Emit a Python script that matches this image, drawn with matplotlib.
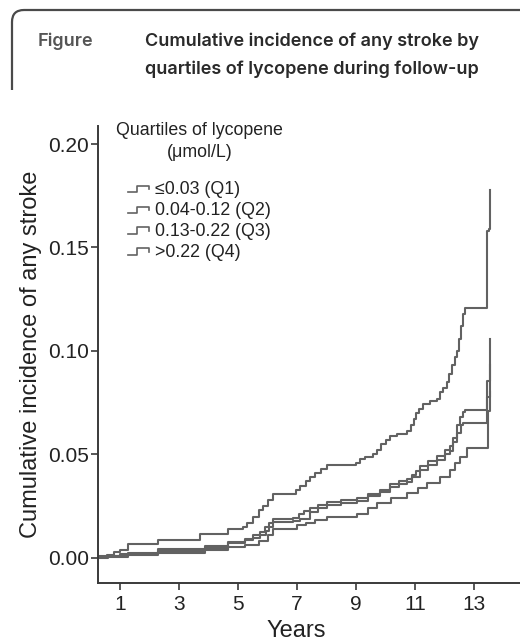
import matplotlib
matplotlib.use("Agg")
import matplotlib.pyplot as plt
from matplotlib.lines import Line2D
from matplotlib.legend_handler import HandlerBase
from matplotlib.path import Path
from matplotlib.patches import PathPatch

# step data (years, cumulative incidence)
q1_t = [0.25, 0.55, 0.8, 1.0, 1.27, 2.29, 3.71, 4.66, 5.17, 5.3, 5.5, 5.7, 5.85, 6.0, 6.19,
        6.95, 7.1, 7.3, 7.45, 7.6, 7.8, 8.02, 9.0, 9.14, 9.3, 9.58, 9.7, 9.85, 10.0, 10.15,
        10.4, 10.73, 10.85, 10.95, 11.05, 11.15, 11.27, 11.5, 11.75, 11.85, 11.95, 12.08,
        12.15, 12.25, 12.35, 12.42, 12.48, 12.55, 12.63, 12.69, 13.44, 13.5, 13.54]
q1_v = [0.0008, 0.0015, 0.003, 0.004, 0.0068, 0.0087, 0.0115, 0.0140, 0.0150, 0.017, 0.020,
        0.023, 0.025, 0.028, 0.031, 0.033, 0.035, 0.037, 0.039, 0.041, 0.043, 0.0447, 0.046,
        0.048, 0.049, 0.050, 0.052, 0.055, 0.057, 0.059, 0.060, 0.0615, 0.064, 0.067, 0.070,
        0.072, 0.0745, 0.076, 0.077, 0.080, 0.082, 0.085, 0.089, 0.093, 0.097, 0.100, 0.106,
        0.112, 0.118, 0.121, 0.158, 0.159, 0.178]

q2_t = [0.25, 0.6, 1.0, 1.27, 2.29, 3.88, 4.66, 5.24, 5.5, 5.75, 5.9, 6.05, 6.19, 6.86, 7.05,
        7.25, 7.44, 7.7, 8.02, 8.5, 9.03, 9.4, 9.8, 10.15, 10.45, 10.73, 10.9, 11.05, 11.17,
        11.45, 11.75, 12.0, 12.19, 12.3, 12.42, 12.52, 12.63, 12.69, 13.44, 13.54]
q2_v = [0.0005, 0.001, 0.0018, 0.0024, 0.0043, 0.0058, 0.0078, 0.0091, 0.011, 0.0125, 0.015,
        0.017, 0.0188, 0.0192, 0.021, 0.0225, 0.024, 0.0255, 0.0269, 0.028, 0.0288, 0.031,
        0.033, 0.0356, 0.037, 0.038, 0.040, 0.042, 0.0442, 0.047, 0.0495, 0.052, 0.0543,
        0.058, 0.064, 0.068, 0.0707, 0.0716, 0.0856, 0.106]

q3_t = [0.25, 0.6, 1.27, 2.29, 3.88, 4.66, 5.24, 5.5, 5.75, 5.95, 6.05, 6.19, 6.86, 7.1, 7.44,
        7.7, 8.02, 8.5, 9.03, 9.4, 9.8, 10.15, 10.45, 10.73, 10.9, 11.17, 11.45, 11.75, 12.0,
        12.19, 12.3, 12.42, 12.55, 12.63, 13.44, 13.54]
q3_v = [0.0003, 0.0008, 0.0019, 0.0034, 0.0048, 0.0070, 0.0085, 0.0098, 0.011, 0.013, 0.015,
        0.0173, 0.0178, 0.019, 0.0221, 0.024, 0.0255, 0.0265, 0.0274, 0.030, 0.032, 0.0341,
        0.0355, 0.0365, 0.039, 0.0423, 0.045, 0.0471, 0.050, 0.0519, 0.056, 0.0606, 0.064,
        0.0654, 0.078, 0.093]

q4_t = [0.25, 0.6, 1.27, 2.29, 3.88, 4.66, 5.24, 5.7, 6.0, 6.19, 7.0, 7.3, 7.6, 8.02, 9.03,
        9.4, 9.71, 10.2, 10.73, 11.1, 11.41, 11.85, 12.19, 12.35, 12.53, 12.76, 13.47, 13.54]
q4_v = [0.0002, 0.0006, 0.0014, 0.0024, 0.0038, 0.0053, 0.0063, 0.008, 0.011, 0.0139, 0.0159,
        0.017, 0.0185, 0.0197, 0.0212, 0.024, 0.0264, 0.029, 0.0313, 0.034, 0.036, 0.039,
        0.0423, 0.046, 0.0486, 0.0529, 0.071, 0.080]

labels = ['\u22640.03 (Q1)', '0.04-0.12 (Q2)', '0.13-0.22 (Q3)', '>0.22 (Q4)']
series = [(q1_t, q1_v), (q2_t, q2_v), (q3_t, q3_v), (q4_t, q4_v)]
x_ticks = [1, 3, 5, 7, 9, 11, 13]
y_ticks = [0.00, 0.05, 0.10, 0.15, 0.20]

W, H = 520, 641
fig = plt.figure(figsize=(W / 100, H / 100), dpi=100)
plt.rcParams['font.family'] = ['Liberation Sans', 'DejaVu Sans']

# header box with rounded top-left corner
fx = lambda px: px / W
fy = lambda py: 1 - py / H
verts = [(fx(12), fy(90)), (fx(12), fy(22)), (fx(12), fy(10)), (fx(24), fy(10)), (fx(520), fy(10))]
codes = [Path.MOVETO, Path.LINETO, Path.CURVE3, Path.CURVE3, Path.LINETO]
fig.add_artist(PathPatch(Path(verts, codes), transform=fig.transFigure, fill=False,
                         edgecolor='#4a4a4a', lw=1.6))
hdr = dict(family=['Inter', 'DejaVu Sans'], fontweight='semibold', fontsize=13, va='center')
fig.text(fx(38), fy(41), 'Figure', color='#555555', **hdr)
fig.text(fx(145), fy(41), 'Cumulative incidence of any stroke by', color='#2a2a2a', **hdr)
fig.text(fx(145), fy(69), 'quartiles of lycopene during follow-up', color='#2a2a2a', **hdr)

ax = fig.add_axes([fx(98), 1 - 583 / H, (W - 98) / W, (583 - 126) / H])
line_color = '#626262'
for (t, v), lab in zip(series, labels):
    ax.plot(t, v, drawstyle='steps-post', color=line_color, lw=1.5, label=lab)

ax.set_xlim(0.25, 14.56)
ax.set_ylim(-0.0121, 0.2087)
ax.set_xticks(x_ticks)
ax.set_yticks(y_ticks)
ax.set_yticklabels(['%.2f' % y for y in y_ticks])
for s in ['top', 'right']:
    ax.spines[s].set_visible(False)
for s in ['left', 'bottom']:
    ax.spines[s].set_color('#3a3a3a')
    ax.spines[s].set_linewidth(1.4)
ax.tick_params(axis='both', labelsize=15, length=5, width=1.2, color='#3a3a3a',
               labelcolor='#222222')
ax.tick_params(axis='y', pad=1.5)
ax.tick_params(axis='x', pad=4)
ax.set_xlabel('Years', fontsize=17, color='#222222')
ax.xaxis.set_label_coords((296 - 98) / (W - 98), -0.082)
ax.set_ylabel('Cumulative incidence of any stroke', fontsize=17, color='#222222')
ax.yaxis.set_label_coords(-0.132, 0.5)


class StepHandler(HandlerBase):
    def create_artists(self, legend, orig_handle, xdescent, ydescent, width, height,
                       fontsize, trans):
        x0, y0 = -xdescent, -ydescent
        xs = [x0, x0 + 0.45 * width, x0 + 0.45 * width, x0 + width, x0 + width]
        ys = [y0 + 0.2 * height, y0 + 0.2 * height, y0 + 0.7 * height, y0 + 0.7 * height,
              y0 + 0.45 * height]
        ln = Line2D(xs, ys, color=orig_handle.get_color(), lw=1.2, transform=trans)
        return [ln]


handles = ax.get_lines()
leg = ax.legend(handles, labels, handler_map={Line2D: StepHandler()},
                title='Quartiles of lycopene\n(\u03bcmol/L)', fontsize=12.8,
                title_fontsize=12.8, frameon=False, loc='upper left',
                bbox_to_anchor=(fx(116), fy(122)), bbox_transform=fig.transFigure,
                borderpad=0, borderaxespad=0, handlelength=1.2, handletextpad=0.35,
                labelspacing=0.22)
leg.get_title().set_multialignment('center')
leg.get_title().set_linespacing(1.35)
leg._legend_box.sep = 15
for txt in leg.get_texts():
    txt.set_color('#222222')
leg.get_title().set_color('#222222')

fig.savefig('out.png', dpi=100)
